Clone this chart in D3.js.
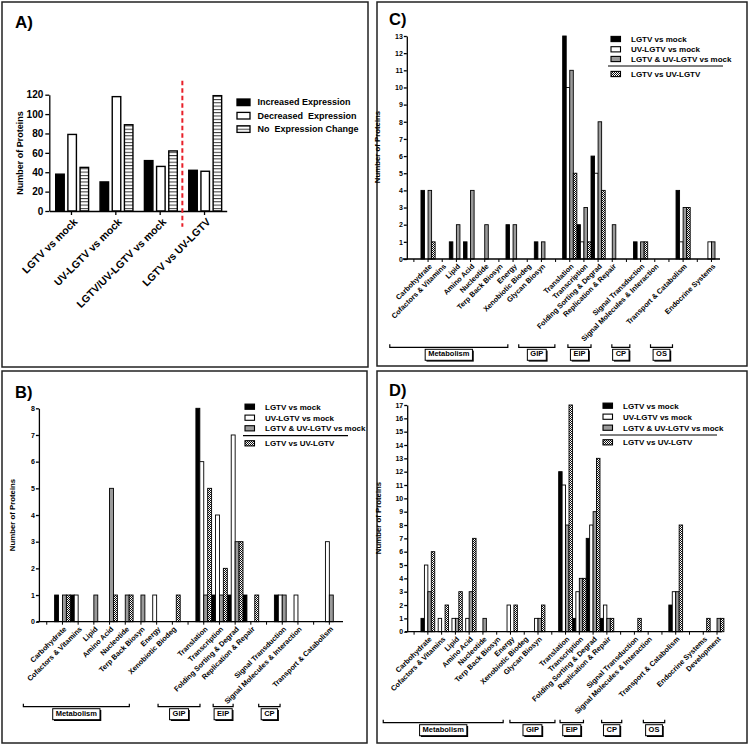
<!DOCTYPE html>
<html><head><meta charset="utf-8">
<script src="https://cdn.jsdelivr.net/npm/d3@7"></script>
<style>
body{margin:0;background:#fff}
text{font-family:"Liberation Sans",Arial,sans-serif;font-weight:bold;fill:#000}
</style>
</head><body><svg id="c" width="750" height="745"></svg>
<script>
// ---------------- DATA ----------------
// Panel A
const aCategories = ["LGTV vs mock","UV-LGTV vs mock","LGTV/UV-LGTV vs mock","LGTV vs UV-LGTV"];
const aSeriesNames = ["Increased Expression","Decreased  Expression","No  Expression Change"];
const aIncreased = [38,30,52,42];
const aDecreased = [79,118,46,41];
const aNoChange  = [45,89,62,119];
const aTicks = [0,20,40,60,80,100,120];

// Series for panels B, C, D
const seriesNames = ["LGTV vs mock","UV-LGTV vs mock","LGTV & UV-LGTV vs mock","LGTV vs UV-LGTV"];

// Panel B ("" = empty slot)
const bCategories = ["","Carbohydrate","Cofactors & Vitamins","Lipid","Amino Acid","Nucleotide","Terp Back Biosyn","Energy","Xenobiotic Biodeg","",
  "Translation","Transcription","Folding Sorting & Degrad","Replication & Repair","","Signal Transduction","Signal Molecules & Interaction","","Transport & Catabolism"];
const bLGTV = [0,1,1,0,0,0,0,0,0,0,8,1,1,1,0,1,0,0,0];
const bUV   = [0,0,1,0,0,0,0,1,0,0,6,4,7,0,0,1,1,0,3];
const bBoth = [0,1,0,1,5,1,1,0,0,0,1,1,3,0,0,1,0,0,1];
const bVs   = [0,1,0,0,1,1,0,0,1,0,5,2,3,1,0,0,0,0,0];
const bGroups = ["Metabolism","GIP","EIP","CP"];

// Panel C
const cCategories = ["","Carbohydrate","Cofactors & Vitamins","Lipid","Amino Acid","Nucleotide","Terp Back Biosyn","Energy","Xenobiotic Biodeg","Glycan Biosyn","",
  "Translation","Transcription","Folding Sorting & Degrad","Replication & Repair","","Signal Transduction","Signal Molecules & Interaction","","Transport & Catabolism","","Endocrine Systems"];
const cLGTV = [0,4,0,1,1,0,0,2,0,1,0,13,2,6,0,0,1,0,0,4,0,0];
const cUV   = [0,0,0,0,0,0,0,0,0,0,0,10,1,5,0,0,0,0,0,1,0,1];
const cBoth = [0,4,0,2,4,2,0,2,0,1,0,11,3,8,2,0,1,0,0,3,0,1];
const cVs   = [0,1,0,0,0,0,0,0,0,0,0,5,1,4,0,0,1,0,0,3,0,0];
const cGroups = ["Metabolism","GIP","EIP","CP","OS"];

// Panel D
const dCategories = ["","Carbohydrate","Cofactors & Vitamins","Lipid","Amino Acid","Nucleotide","Terp Back Biosyn","Energy","Xenobiotic Biodeg","Glycan Biosyn","",
  "Translation","Transcription","Folding Sorting & Degrad","Replication & Repair","","Signal Transduction","Signal Molecules & Interaction","","Transport & Catabolism","","Endocrine Systems","Development"];
const dLGTV = [0,1,0,0,0,0,0,0,0,0,0,12,1,7,1,0,0,0,0,2,0,0,0];
const dUV   = [0,5,1,1,1,0,0,2,0,1,0,11,3,8,2,0,0,0,0,3,0,0,0];
const dBoth = [0,3,0,1,3,1,0,0,0,1,0,8,4,9,1,0,0,0,0,3,0,0,1];
const dVs   = [0,6,2,3,7,0,0,2,0,2,0,17,4,13,1,0,1,0,0,8,0,1,1];
const dGroups = ["Metabolism","GIP","EIP","CP","OS"];

// ---------------- DRAW ----------------
const svg = d3.select("#c");
const defs = svg.append("defs");
defs.append("pattern").attr("id","hstripe").attr("patternUnits","userSpaceOnUse").attr("width",4).attr("height",3.3)
  .call(p=>{p.append("rect").attr("width",4).attr("height",3.3).attr("fill","#fff");
            p.append("rect").attr("width",4).attr("height",1).attr("fill","#333");});
defs.append("pattern").attr("id","check").attr("patternUnits","userSpaceOnUse").attr("width",2).attr("height",2)
  .call(p=>{p.append("rect").attr("width",2).attr("height",2).attr("fill","#fff");
            p.append("rect").attr("width",1).attr("height",1).attr("fill","#111");
            p.append("rect").attr("x",1).attr("y",1).attr("width",1).attr("height",1).attr("fill","#111");});

const fills4 = ["#000","#fff","#9a9a9a","url(#check)"];
const fills3 = ["#000","#fff","url(#hstripe)"];

// panel frames
[[2,2,366,365],[377,2,370,364],[2,371,365,372],[377,371,370,372]].forEach(r=>{
  svg.append("rect").attr("x",r[0]).attr("y",r[1]).attr("width",r[2]).attr("height",r[3])
    .attr("fill","none").attr("stroke","#222").attr("stroke-width",1.5);
});

function styleAxis(a, fs){
  a.attr("font-family",null).attr("font-size",fs);
  a.selectAll("path,line").attr("stroke","#000").attr("stroke-width",1.3);
}

// ---------- Panel A ----------
(function(){
  const g = svg.append("g");
  g.append("text").attr("x",15).attr("y",28).attr("font-size",17).text("A)");
  const x = d3.scaleBand().domain(aCategories).range([49.3,226.7]).padding(0);
  const xi = d3.scaleBand().domain([0,1,2]).range([6.4,39.3]).paddingInner(0.3).paddingOuter(0);
  const y = d3.scaleLinear().domain([0,120]).range([211,94.7]);
  [aIncreased,aDecreased,aNoChange].forEach((arr,s)=>{
    g.append("g").selectAll("rect").data(arr.map((v,i)=>({v,c:aCategories[i]}))).join("rect")
      .attr("x",d=>x(d.c)+xi(s)).attr("y",d=>y(d.v)).attr("width",xi.bandwidth()).attr("height",d=>y(0)-y(d.v))
      .attr("fill",fills3[s]).attr("stroke","#000").attr("stroke-width",1.4);
  });
  const ya = g.append("g").attr("transform","translate(49.3,0)")
    .call(d3.axisLeft(y).tickValues(aTicks).tickSize(4).tickSizeOuter(0));
  styleAxis(ya,10);
  ya.selectAll("text").attr("x",-6);
  const xa = g.append("g").attr("transform","translate(0,211)")
    .call(d3.axisBottom(x).tickSize(4).tickSizeOuter(0));
  styleAxis(xa,10.5);
  xa.selectAll(".tick text").attr("y",0).attr("dy","0.35em").attr("text-anchor","end")
    .attr("transform","translate(4,9) rotate(-45)");
  const sx = x(aCategories[3]);
  g.append("line").attr("x1",sx).attr("x2",sx).attr("y1",80.7).attr("y2",226.7)
    .attr("stroke","#e8202a").attr("stroke-width",2).attr("stroke-dasharray","4.5,3");
  g.append("text").attr("transform","translate(22.7,153) rotate(-90)").attr("text-anchor","middle")
    .attr("font-size",9).text("Number of Proteins");
  aSeriesNames.forEach((n,s)=>{
    const yy = 102.3 + s*13.4;
    g.append("rect").attr("x",237).attr("y",yy-3.3).attr("width",13).attr("height",6.6)
      .attr("fill",fills3[s]).attr("stroke","#000").attr("stroke-width",1.3);
    g.append("text").attr("x",257.5).attr("y",yy).attr("dy","0.35em").attr("font-size",9).attr("xml:space","preserve").text(n);
  });
})();

// ---------- Panels B, C, D ----------
function detail(L, cats, vals, groups){
  const g = svg.append("g");
  g.append("text").attr("x",L.lab[0]).attr("y",L.lab[1]).attr("font-size",16.5).text(L.name);
  const n = cats.length;
  const x = d3.scaleBand().domain(d3.range(n)).range([L.x0, L.x0+L.step*n]).padding(0);
  const xi = d3.scaleBand().domain(d3.range(4)).range([0,x.bandwidth()]).padding(0);
  const y = d3.scaleLinear().domain([0,L.yMax]).range([L.yBase,L.yTop]);
  vals.forEach((arr,s)=>{
    g.append("g").selectAll("rect").data(arr.map((v,i)=>({v,i})).filter(d=>d.v>0)).join("rect")
      .attr("x",d=>x(d.i)+xi(s)).attr("y",d=>y(d.v)).attr("width",xi.bandwidth()).attr("height",d=>y(0)-y(d.v))
      .attr("fill",fills4[s]).attr("stroke","#000").attr("stroke-width",0.9);
  });
  const xa = g.append("g").attr("transform",`translate(0,${L.yBase})`)
    .call(d3.axisBottom(x).tickSize(3).tickSizeOuter(0).tickFormat(i=>cats[i]));
  styleAxis(xa,7.3);
  xa.select(".domain").remove();
  xa.selectAll(".tick line").attr("stroke-width",1);
  xa.selectAll(".tick text").attr("y",0).attr("dy","0.35em").attr("text-anchor","end")
    .attr("transform","translate(2.5,6) rotate(-45)");
  g.append("line").attr("x1",L.ax0).attr("x2",L.ax1).attr("y1",L.yBase).attr("y2",L.yBase)
    .attr("stroke","#000").attr("stroke-width",1.3);
  const ya = g.append("g").attr("transform",`translate(${L.x0},0)`)
    .call(d3.axisLeft(y).tickValues(d3.range(0,L.yMax+1)).tickSize(3).tickSizeOuter(0).tickFormat(d3.format("d")));
  styleAxis(ya,7);
  ya.selectAll("text").attr("x",-4);
  g.append("text").attr("transform",`translate(${L.yt[0]},${L.yt[1]}) rotate(-90)`).attr("text-anchor","middle")
    .attr("font-size",7.8).text("Number of Proteins");
  seriesNames.forEach((nm,s)=>{
    const yy = L.leg.rows[s];
    g.append("rect").attr("x",L.leg.x).attr("y",yy-2.6).attr("width",9.5).attr("height",5.2)
      .attr("fill",fills4[s]).attr("stroke","#000").attr("stroke-width",1.1);
    g.append("text").attr("x",L.leg.tx).attr("y",yy).attr("dy","0.35em").attr("font-size",8).text(nm);
  });
  g.append("line").attr("x1",L.leg.line[0]).attr("x2",L.leg.line[1]).attr("y1",L.leg.line[2]).attr("y2",L.leg.line[2])
    .attr("stroke","#000").attr("stroke-width",1.2);
  const c0 = x(0)+x.bandwidth()/2;
  groups.forEach((nm,k)=>{
    const [k0,k1] = L.br[k];
    const x0 = c0+k0*L.step, x1 = c0+k1*L.step, by = L.by;
    g.append("path").attr("d",`M${x0},${by-3}V${by}H${x1}V${by-3}`).attr("fill","none").attr("stroke","#000").attr("stroke-width",1.2);
    const cx = (x0+x1)/2;
    const t = g.append("text").attr("x",cx).attr("y",by+8.8).attr("text-anchor","middle").attr("font-size",7.5).text(nm);
    const w = t.node().getComputedTextLength()+6;
    g.insert("rect",()=>t.node()).attr("x",cx-w/2+1.3).attr("y",by+3.3).attr("width",w).attr("height",11).attr("fill","#000");
    g.insert("rect",()=>t.node()).attr("x",cx-w/2).attr("y",by+2).attr("width",w).attr("height",11)
      .attr("fill","#fff").attr("stroke","#000").attr("stroke-width",1);
  });
}

detail({name:"B)",lab:[15,398],x0:38.9,step:15.7,yMax:8,yBase:621.7,yTop:408.3,ax0:36.7,ax1:343,yt:[15,515],
  leg:{x:245,tx:265,rows:[406.7,417.7,428.3,443.3],line:[243,348,435.7]},by:706.7,
  br:[[-1.49,5.26],[7.09,9.76],[10.6,11.87],[13.5,14.86]]},
  bCategories,[bLGTV,bUV,bBoth,bVs],bGroups);

detail({name:"C)",lab:[389,25],x0:406.8,step:14.17,yMax:13,yBase:259,yTop:36,ax0:403,ax1:720,yt:[380,147],
  leg:{x:611,tx:631,rows:[39,49.3,59,74],line:[608,723,66]},by:347.3,
  br:[[-1.7,6.63],[7.4,9.95],[10.87,12.5],[13.97,15.24],[16.7,18.25]]},
  cCategories,[cLGTV,cUV,cBoth,cVs],cGroups);

detail({name:"D)",lab:[389,396],x0:407.2,step:13.77,yMax:17,yBase:631.7,yTop:405,ax0:405,ax1:722,yt:[381,518],
  leg:{x:603,tx:623,rows:[405.7,416.7,427.7,442.3],line:[600,717,435]},by:722.7,
  br:[[-2.24,6.47],[6.96,10.23],[10.6,12.3],[13.62,15.08],[16.65,18.2]]},
  dCategories,[dLGTV,dUV,dBoth,dVs],dGroups);
</script>
</body></html>
